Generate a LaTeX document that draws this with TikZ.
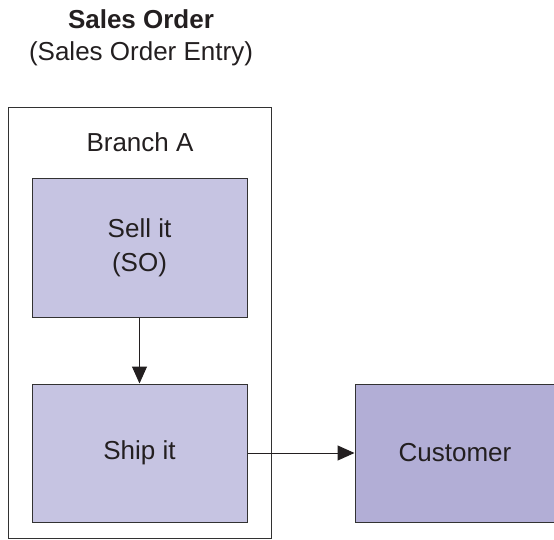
\documentclass[tikz,border=0pt]{standalone}
\usepackage{fontspec}
\setmainfont{Liberation Sans}
\usetikzlibrary{arrows.meta,positioning}

\definecolor{stepfill}{RGB}{198,196,226}
\definecolor{custfill}{RGB}{178,174,214}
\definecolor{edge}{RGB}{50,50,50}
\definecolor{ink}{RGB}{35,31,32}

\begin{document}
\begin{tikzpicture}[
    x=1pt, y=-1pt,
    every node/.style={text=ink, font=\fontsize{26}{34}\selectfont},
    stepbox/.style={
      draw=edge, line width=1pt, fill=stepfill,
      minimum width=215pt, minimum height=138pt,
      align=center, inner sep=0pt},
    flow/.style={
      draw=ink, line width=1pt,
      -{Triangle[length=17pt,width=15pt]}}]
    \useasboundingbox (0,0) rectangle (554,540);

    \node[align=center, font=\fontsize{26}{32}\selectfont] (title) at (141,38)
      {\textbf{Sales Order}\\(Sales Order Entry)};

    \draw[edge, line width=1pt] (8,108) rectangle (271,538.5);
    \node (branch) at (140,142) {Branch A};

    \node[stepbox] (sell) at (139.5,248) {Sell it\\(SO)};
    \node[stepbox] (ship) at (139.5,453) {Ship it};
    \node[stepbox, fill=custfill, minimum width=210pt] (cust) at (460,453) {};
    \node (custlabel) at (455,453) {Customer};

    \draw[flow] (sell.south) -- (ship.north);
    \draw[flow] (ship.east) -- (cust.west);
  \end{tikzpicture}
\end{document}
